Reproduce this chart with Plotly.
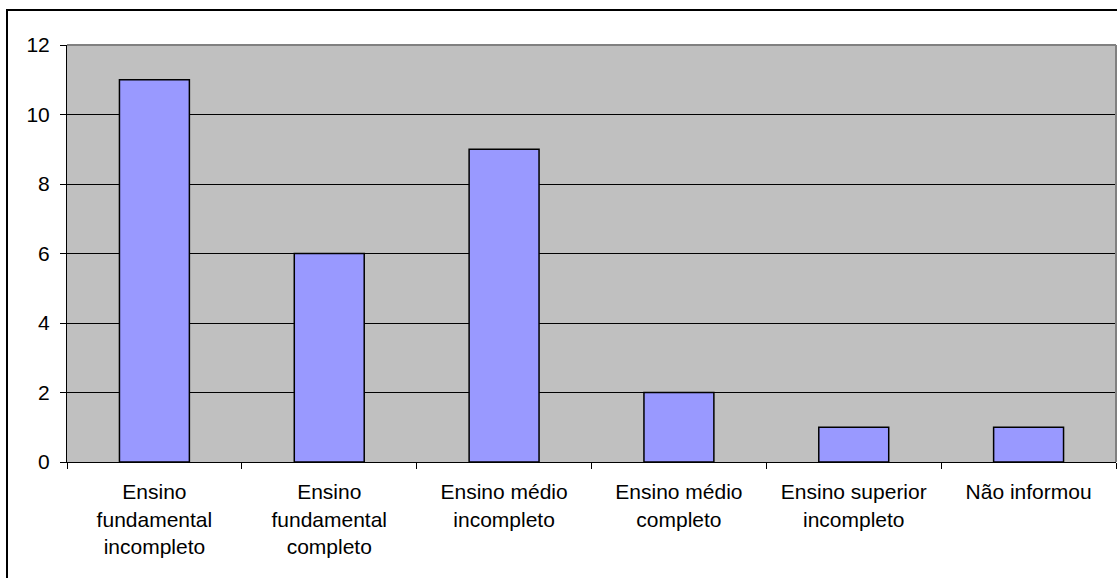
import plotly.graph_objects as go

categories = [
    "Ensino<br>fundamental<br>incompleto",
    "Ensino<br>fundamental<br>completo",
    "Ensino médio<br>incompleto",
    "Ensino médio<br>completo",
    "Ensino superior<br>incompleto",
    "Não informou",
]
values = [11, 6, 9, 2, 1, 1]
y_ticks = [0, 2, 4, 6, 8, 10, 12]

W, H = 1117, 578
L, R, T, B = 67, 1, 45, 116
pw, ph = W - L - R, H - T - B

fig = go.Figure(go.Bar(
    x=categories, y=values,
    marker=dict(color="#9999FF", line=dict(color="#000000", width=1.5)),
    width=0.4,
))

fnt = dict(family="Liberation Sans, Arial, sans-serif", size=21, color="#000000")

fig.update_layout(
    width=W, height=H,
    margin=dict(l=L, r=R, t=T, b=B, pad=0),
    paper_bgcolor="#FFFFFF",
    plot_bgcolor="#C0C0C0",
    font=fnt,
    showlegend=False,
    xaxis=dict(
        type="category", tickson="boundaries",
        ticks="outside", ticklen=6, tickcolor="#000000", tickwidth=1,
        showline=True, linecolor="#000000", linewidth=1,
        showgrid=False, tickfont=fnt, ticklabelstandoff=11,
        range=[-0.5, 5.5],
    ),
    yaxis=dict(
        range=[0, 12], tickvals=y_ticks,
        ticks="outside", ticklen=6, tickcolor="#000000", tickwidth=1,
        showline=True, linecolor="#000000", linewidth=1,
        showgrid=True, gridcolor="#000000", gridwidth=1,
        zeroline=False, tickfont=fnt, ticklabelstandoff=6,
    ),
    shapes=[
        dict(type="line", xref="paper", yref="paper", x0=0, x1=1, y0=1, y1=1,
             line=dict(color="#808080", width=2)),
        dict(type="line", xref="paper", yref="paper", x0=1, x1=1, y0=0, y1=1,
             line=dict(color="#808080", width=2)),
        dict(type="rect", xref="paper", yref="paper",
             x0=(7 - L) / pw, x1=(W + 20 - L) / pw,
             y0=-(H + 20 - (H - B)) / ph, y1=1 + (T - 10) / ph,
             line=dict(color="#000000", width=2), layer="above"),
    ],
)

fig.write_html("out.html")
